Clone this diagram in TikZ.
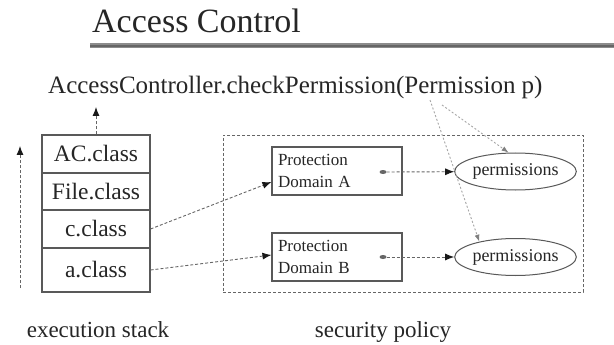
\documentclass[tikz,border=0pt]{standalone}
\usepackage{fontspec}
\setmainfont{Liberation Serif}
\usetikzlibrary{arrows.meta,shapes.geometric}
\tikzset{
  rowbox/.style={draw=black!65, line width=1.1pt, minimum width=108pt, inner sep=0pt, font=\fontsize{23.5}{26}\selectfont, text=black!85},
  pdbox/.style={draw=black!65, line width=1.1pt, minimum width=130pt, minimum height=48pt, inner xsep=6pt, inner ysep=0pt, text width=118pt, align=left, font=\fontsize{17}{22}\selectfont, text=black!85},
  permell/.style={ellipse, draw=black!65, line width=1pt, minimum width=105pt, minimum height=37pt, inner sep=0pt, font=\fontsize{18}{20}\selectfont, text=black!85},
  dashline/.style={draw=black!60, line width=0.9pt, dash pattern=on 3pt off 2pt},
  dasharrow/.style={dashline, -{Latex[length=9pt,width=7pt,black!90]}},
  lightarrow/.style={draw=black!35, line width=0.9pt, dash pattern=on 2pt off 2pt, -{Latex[length=7pt,width=5pt,black!50]}},
  lbl/.style={font=\fontsize{23}{26}\selectfont, text=black!85, inner sep=0pt},
}
\begin{document}
\begin{tikzpicture}[x=1pt,y=-1pt]
\useasboundingbox[fill=white] (0,0) rectangle (614,345);
% title
\node[anchor=base west, inner sep=0pt, font=\fontsize{34}{38}\selectfont, text=black!85] (title) at (92,33) {Access Control};
\coordinate (rl) at (90,46);
\coordinate (rr) at (614,46);
\draw[line width=5pt, black!45] (rl) -- (rr);
\draw[line width=1.2pt, black!60] (rl) -- (rr);
% call text
\node[anchor=base west, inner sep=0pt, font=\fontsize{25}{28}\selectfont, text=black!85] (chk) at (48,94) {AccessController.checkPermission(Permission p)};
% stack
\node[rowbox, minimum height=38pt] (ac) at (96,154) {AC.class};
\node[rowbox, minimum height=37pt] (file) at (96,191.5) {File.class};
\node[rowbox, minimum height=38pt] (c) at (96,229) {c.class};
\node[rowbox, minimum height=44pt] (a) at (96,270) {a.class};
\coordinate (up) at (96,107);
\draw[dasharrow] (ac.north) -- (up);
\coordinate (lb) at (20,288);
\coordinate (lt) at (20,146);
\draw[dasharrow] (lb) -- (lt);
% policy box
\node[dashline, draw, minimum width=360pt, minimum height=157pt, inner sep=0pt] (policy) at (403,213.5) {};
\node[pdbox] (pa) at (337,171) {Protection\\Domain A};
\node[pdbox] (pb) at (337,257) {Protection\\Domain B};
\node[ellipse, fill=black!60, minimum width=7pt, minimum height=4pt, inner sep=0pt] (da) at (383,172) {};
\node[ellipse, fill=black!60, minimum width=7pt, minimum height=4pt, inner sep=0pt] (db) at (383,257) {};
\node[permell] (ea) at (515.5,171.5) {permissions};
\node[permell] (eb) at (515.5,257) {permissions};
\draw[dasharrow] (da) -- (ea);
\draw[dasharrow] (db) -- (eb);
\draw[dasharrow] (c.east) -- ([yshift=-11pt]pa.west);
\draw[dasharrow] (a.east) -- ([yshift=2pt]pb.west);
% from permission argument
\coordinate (p1) at (430,100);
\coordinate (p2) at (442,105);
\draw[lightarrow] (p1) -- (eb.157);
\draw[lightarrow] (p2) -- (ea.110);
% captions
\node[lbl, anchor=base] (es) at (98,337) {execution stack};
\node[lbl, anchor=base] (sp) at (383,337) {security policy};
\end{tikzpicture}
\end{document}
